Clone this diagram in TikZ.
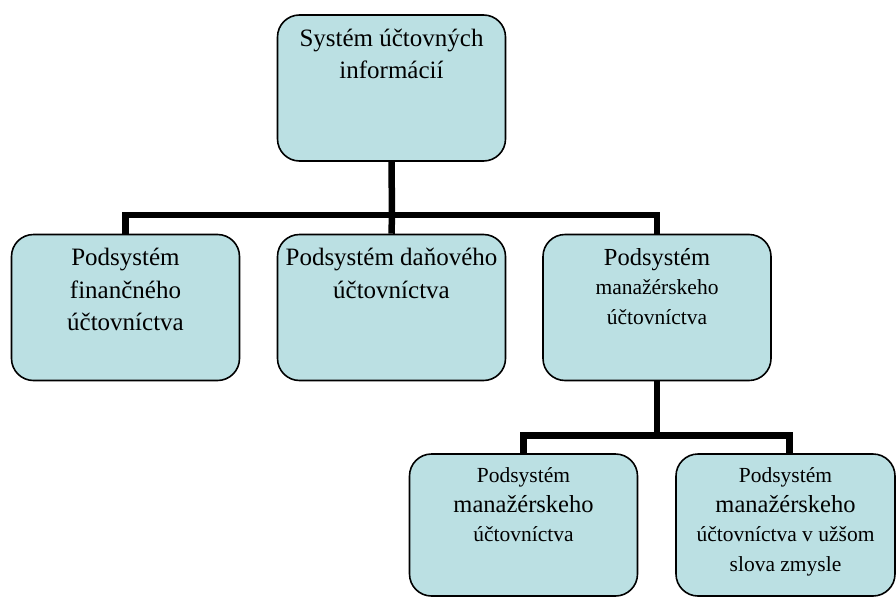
\documentclass[tikz,border=0pt]{standalone}
\usepackage{fontspec}
\setmainfont{Liberation Serif}
\usepackage{xcolor}
\definecolor{boxblue}{RGB}{187,224,227}
\newcommand{\largeword}[1]{{\fontsize{24.5}{30}\selectfont #1}}

\begin{document}
\begin{tikzpicture}[x=1pt,y=-1pt,line join=miter]
        \tikzstyle{box}=[draw=black,line width=1.6pt,fill=boxblue,rounded corners=22pt,minimum width=228pt,minimum height=146pt,inner sep=0pt]
        \tikzstyle{boxtext}=[anchor=north,inner sep=14.5pt,align=center,font=\fontsize{25}{32.5}\selectfont]
        \tikzstyle{smalltext}=[boxtext,font=\fontsize{21.5}{29.5}\selectfont]
        \tikzstyle{link}=[line width=6.5pt]

        \useasboundingbox (0,0) rectangle (896,597);

        \node[box, label={[boxtext]north:Systém účtovných\\informácií}] (sys) at (391.5,88) {};

        \node[box, label={[boxtext]north:Podsystém\\finančného\\účtovníctva}] (fin) at (125.5,307.5) {};
        \node[box, label={[boxtext]north:Podsystém daňového\\účtovníctva}] (dan) at (391.5,307.5) {};
        \node[box, label={[smalltext]north:\largeword{Podsystém}\\manažérskeho\\účtovníctva}] (man) at (657,307.5) {};

        \node[box, minimum height=142pt, label={[smalltext]north:Podsystém\\\largeword{manažérskeho}\\účtovníctva}] (manA) at (523.5,525) {};
        \node[box, minimum height=142pt, minimum width=219pt, label={[smalltext]north:Podsystém\\\largeword{manažérskeho}\\účtovníctva v užšom\\slova zmysle}] (manB) at (785.5,525) {};

        \coordinate (top) at (392,215);
        \coordinate (mid) at (657,435.5);

        \draw[link] (sys.south) -- (top);
        \draw[link] (fin.north) |- (top) -| (man.north);
        \draw[link] (top) -- (dan.north);

        \draw[link] (man.south) -- (mid);
        \draw[link] (manA.north) |- (mid) -| ([xshift=4pt]manB.north);
    \end{tikzpicture}
\end{document}
